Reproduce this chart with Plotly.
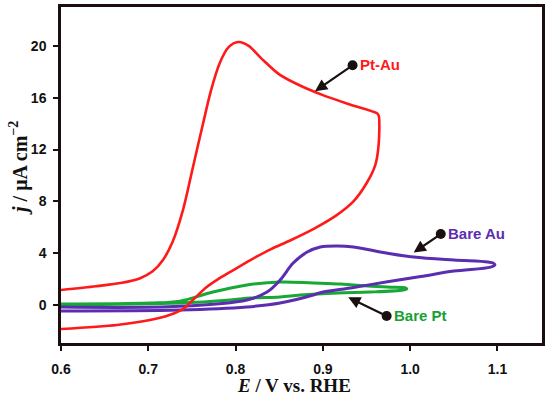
import plotly.graph_objects as go

# Pt-Au (red) cyclic voltammogram
ptau_E = [0.600, 0.640, 0.670, 0.690, 0.705, 0.717, 0.728, 0.740, 0.751, 0.762, 0.772, 0.782, 0.792, 0.803,
          0.815, 0.830, 0.850, 0.875, 0.900, 0.930, 0.962, 0.964, 0.964, 0.960, 0.950, 0.935, 0.915,
          0.890, 0.863, 0.840, 0.817, 0.795, 0.780, 0.767, 0.751, 0.740, 0.725, 0.702, 0.664, 0.600]
ptau_j = [1.16, 1.45, 1.72, 2.05, 2.60, 3.50, 4.90, 7.40, 10.6, 13.8, 16.6, 18.7, 19.9, 20.3,
          20.0, 19.0, 17.8, 16.9, 16.2, 15.5, 14.8, 14.6, 12.5, 10.8, 9.4, 8.0, 6.9,
          5.9, 5.0, 4.3, 3.47, 2.6, 2.0, 1.39, 0.39, -0.30, -0.75, -1.16, -1.54, -1.85]

# Bare Au (purple)
au_E = [0.600, 0.736, 0.813, 0.836, 0.851, 0.866, 0.882, 0.897, 0.917, 0.935, 0.974, 1.004, 1.050,
        1.089, 1.095, 1.097, 1.092, 1.050, 1.012, 0.974, 0.935, 0.897, 0.889, 0.851, 0.813, 0.736, 0.600]
au_j = [-0.15, -0.10, 0.39, 1.00, 1.93, 3.24, 4.09, 4.48, 4.56, 4.48, 4.00, 3.70, 3.47,
        3.32, 3.24, 3.09, 2.93, 2.62, 2.20, 1.80, 1.35, 0.95, 0.77, 0.15, -0.15, -0.39, -0.46]

# Bare Pt (green)
pt_E = [0.600, 0.702, 0.736, 0.774, 0.813, 0.851, 0.889, 0.920, 0.935, 0.974, 0.995, 0.996,
        0.992, 0.954, 0.917, 0.874, 0.851, 0.817, 0.794, 0.736, 0.600]
pt_j = [0.08, 0.15, 0.30, 1.00, 1.54, 1.78, 1.70, 1.62, 1.54, 1.39, 1.31, 1.24,
        1.16, 1.00, 0.93, 0.77, 0.62, 0.54, 0.39, 0.15, 0.00]

x_ticks = [0.6, 0.7, 0.8, 0.9, 1.0, 1.1]
x_tick_labels = ["0.6", "0.7", "0.8", "0.9", "1.0", "1.1"]
y_ticks = [0, 4, 8, 12, 16, 20]

# labels: text, dot position (E, j), arrow tip (E, j), colour
labels = ["Pt-Au", "Bare Au", "Bare Pt"]
label_dot_E = [0.934, 1.035, 0.973]
label_dot_j = [18.5, 5.48, -0.85]
label_tip_E = [0.891, 1.004, 0.929]
label_tip_j = [16.5, 4.05, 0.60]
label_colors = ["#FF1A1A", "#5B2DB0", "#17A032"]

RED = "#FF1A1A"
PURPLE = "#5B2DB0"
GREEN = "#17A835"
FRAME = "#1C0E0E"

fig = go.Figure()
fig.add_trace(go.Scatter(x=pt_E, y=pt_j, mode="lines",
                         line=dict(color=GREEN, width=3, shape="spline", smoothing=1.0)))
fig.add_trace(go.Scatter(x=au_E, y=au_j, mode="lines",
                         line=dict(color=PURPLE, width=3, shape="spline", smoothing=1.0)))
fig.add_trace(go.Scatter(x=ptau_E, y=ptau_j, mode="lines",
                         line=dict(color=RED, width=2.6, shape="spline", smoothing=0.8)))

fig.add_trace(go.Scatter(x=label_dot_E, y=label_dot_j, mode="markers",
                         marker=dict(color="#1a1010", size=10)))

for t, dx, dy, tx, ty, c in zip(labels, label_dot_E, label_dot_j, label_tip_E, label_tip_j, label_colors):
    fig.add_annotation(x=tx, y=ty, ax=dx, ay=dy, xref="x", yref="y", axref="x", ayref="y",
                       text="", showarrow=True, arrowhead=2, arrowsize=1.1, arrowwidth=2.2,
                       arrowcolor="#1a1010")
    fig.add_annotation(x=dx, y=dy, xref="x", yref="y", text="<b>" + t + "</b>", showarrow=False,
                       xanchor="left", yanchor="middle", xshift=5, yshift=1,
                       font=dict(family="Liberation Sans, Arial", size=15, color=c))

axis_common = dict(showgrid=False, zeroline=False, showline=True, linewidth=2.5, linecolor=FRAME,
                   mirror=True, ticks="outside", ticklen=5, tickwidth=1.5, tickcolor=FRAME,
                   automargin=False,
                   tickfont=dict(family="Liberation Sans, Arial", size=14, color="#111111"))

fig.update_xaxes(range=[0.6, 1.151], tickvals=x_ticks, ticktext=["<b>%s</b>" % s for s in x_tick_labels],
                 ticklabelstandoff=6, **axis_common)
fig.update_yaxes(range=[-2.93, 23.0], tickvals=y_ticks, ticktext=["<b>%d</b>" % v for v in y_ticks],
                 ticklabelstandoff=4, **axis_common)

fig.add_annotation(x=0.485, y=-0.126, xref="paper", yref="paper", showarrow=False,
                   text="<b><i>E</i> / V vs. RHE</b>", xanchor="center", yanchor="middle",
                   font=dict(family="Liberation Serif, Times New Roman", size=19, color="#111111"))
fig.add_annotation(x=-0.088, y=0.52, xref="paper", yref="paper", showarrow=False, textangle=-90,
                   text="<b><i>j</i> / μA cm<sup>−2</sup></b>", xanchor="center", yanchor="middle",
                   font=dict(family="Liberation Serif, Times New Roman", size=20, color="#111111"))

fig.update_layout(width=550, height=398, margin=dict(l=61, r=8, t=7, b=55, autoexpand=False),
                  plot_bgcolor="white", paper_bgcolor="white", showlegend=False)

fig.write_html("out.html", config={"displayModeBar": False},
               post_script="document.body.style.margin='0';")
